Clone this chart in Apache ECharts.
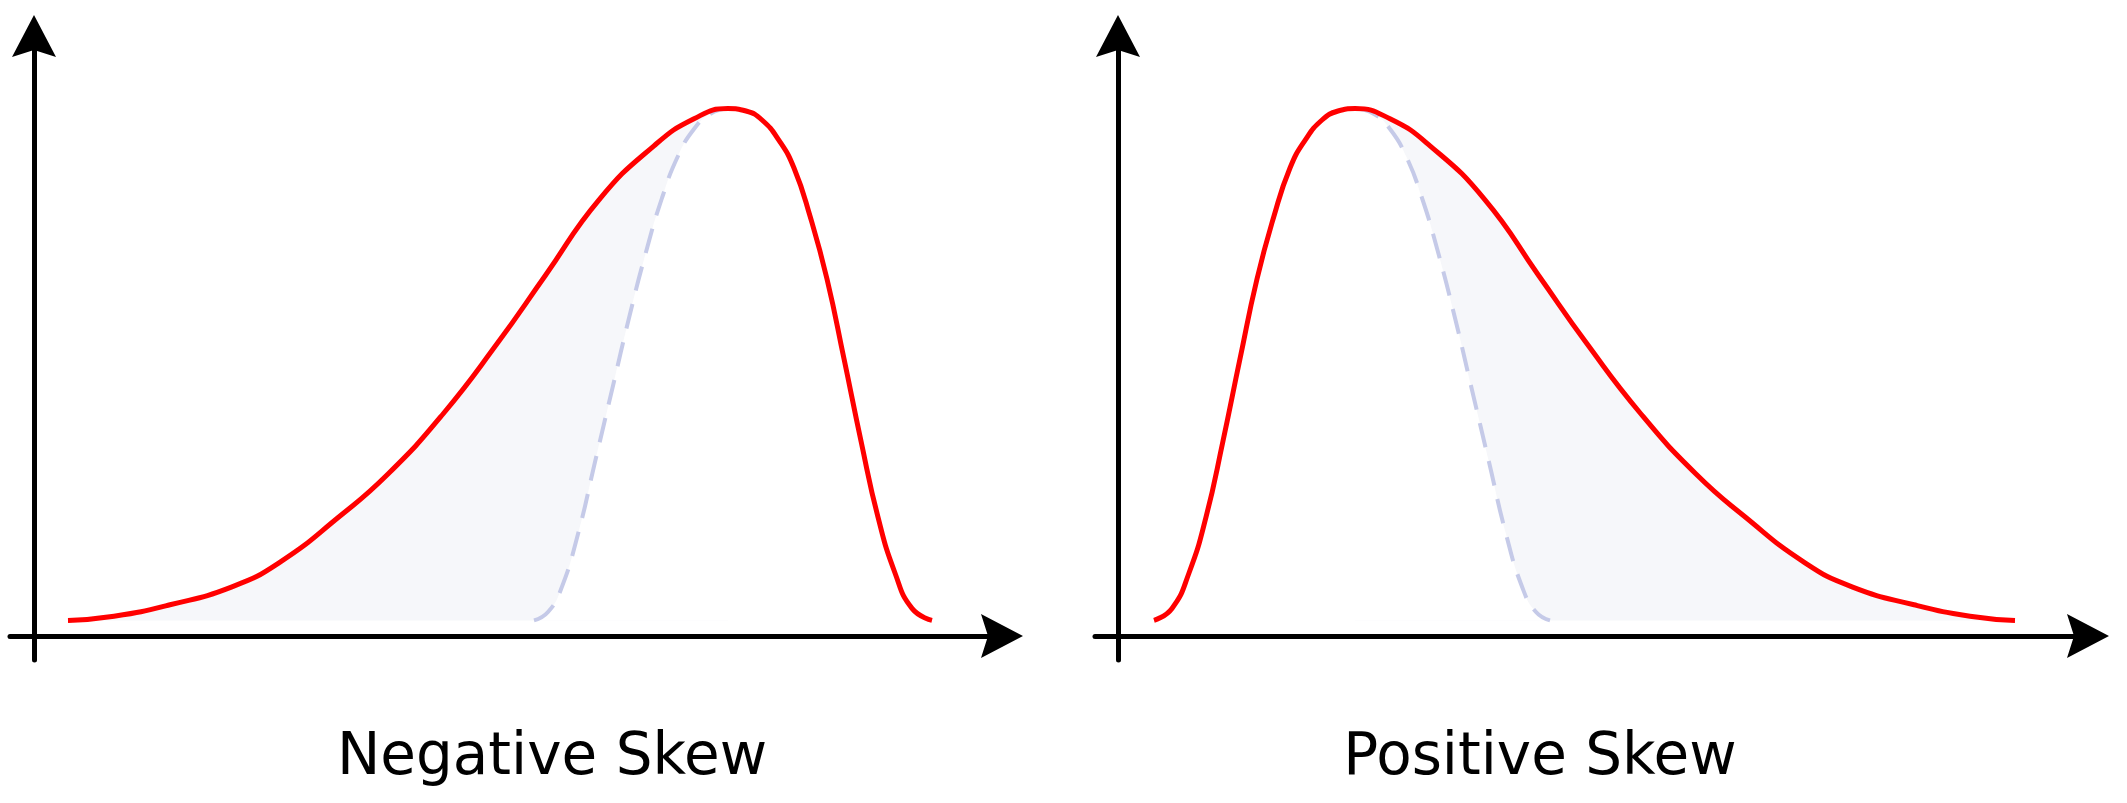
<!DOCTYPE html>
<html><head><meta charset="utf-8">
<script src="https://cdn.jsdelivr.net/npm/echarts@6/dist/echarts.min.js"></script>
<style>html,body{margin:0;padding:0;background:#fff}#c{width:2127px;height:803px}</style>
</head><body><div id="c"></div>
<script>
// Panel titles
const panelTitles = ['Negative Skew', 'Positive Skew'];

// Negative skew: red density curve
const negRedX = [0.34, 0.80, 1.36, 1.98, 2.45, 3.06, 3.54, 4.09, 4.63, 5.11, 5.65, 6.20, 6.60, 6.94, 7.12, 7.28, 7.45, 7.60, 7.76, 7.93, 8.10, 8.27, 8.44, 8.61, 8.78, 8.98];
const negRedY = [0.026, 0.033, 0.052, 0.082, 0.122, 0.200, 0.270, 0.370, 0.487, 0.600, 0.727, 0.817, 0.862, 0.879, 0.875, 0.860, 0.826, 0.780, 0.700, 0.595, 0.462, 0.325, 0.198, 0.105, 0.046, 0.026];
// Negative skew: dashed symmetric reference curve
const negDashX = [5.00, 5.14, 5.27, 5.44, 5.61, 5.78, 5.95, 6.12, 6.28, 6.44, 6.60, 6.76, 6.94];
const negDashY = [0.026, 0.040, 0.078, 0.170, 0.290, 0.410, 0.530, 0.640, 0.730, 0.800, 0.845, 0.870, 0.879];

// Positive skew: red density curve
const posRedX = [0.36, 0.54, 0.71, 0.88, 1.05, 1.22, 1.39, 1.56, 1.72, 1.87, 2.04, 2.20, 2.37, 2.72, 3.12, 3.67, 4.21, 4.69, 5.23, 5.78, 6.26, 6.87, 7.34, 7.96, 8.52, 8.97];
const posRedY = [0.026, 0.046, 0.105, 0.198, 0.325, 0.462, 0.595, 0.700, 0.780, 0.826, 0.860, 0.875, 0.879, 0.862, 0.817, 0.727, 0.600, 0.487, 0.370, 0.270, 0.200, 0.122, 0.082, 0.052, 0.033, 0.026];
// Positive skew: dashed symmetric reference curve
const posDashX = [2.37, 2.56, 2.72, 2.88, 3.04, 3.20, 3.37, 3.54, 3.71, 3.88, 4.05, 4.18, 4.32];
const posDashY = [0.879, 0.870, 0.845, 0.800, 0.730, 0.640, 0.530, 0.410, 0.290, 0.170, 0.078, 0.040, 0.026];

const baseline = 0.026;

const pairs = (xs, ys) => xs.map((x, i) => [x, ys[i]]);
const peakIdx = ys => ys.indexOf(Math.max(...ys));

const negRed = pairs(negRedX, negRedY);
const negDash = pairs(negDashX, negDashY);
const posRed = pairs(posRedX, posRedY);
const posDash = pairs(posDashX, posDashY);
const negFill = negRed.slice(0, peakIdx(negRedY) + 1);
const posFill = posRed.slice(peakIdx(posRedY));

const RED = '#ff0000';
const DASH = '#c5cae8';
const FILL = '#f6f7fa';
const arrowPath = 'path://M0,0L22,42L0,35L-22,42Z';

function axesFor(gi, xmin, xmax) {
  const line = {show: true, onZero: true, lineStyle: {color: '#000', width: 5},
    symbol: ['none', arrowPath], symbolSize: [45, 42]};
  return {
    x: {type: 'value', gridIndex: gi, min: xmin, max: xmax, axisLine: line,
      axisTick: {show: false}, axisLabel: {show: false}, splitLine: {show: false}},
    y: {type: 'value', gridIndex: gi, min: -0.04, max: 1, axisLine: line,
      axisTick: {show: false}, axisLabel: {show: false}, splitLine: {show: false}}
  };
}
const a0 = axesFor(0, -0.24, 9.68);
const a1 = axesFor(1, -0.23, 9.70);

function panelSeries(gi, red, dash, fill) {
  const common = {type: 'line', xAxisIndex: gi, yAxisIndex: gi, smooth: 0.5,
    showSymbol: false, symbol: 'none', silent: true, animation: false};
  return [
    Object.assign({}, common, {data: fill, lineStyle: {width: 0},
      areaStyle: {color: FILL, opacity: 1, origin: baseline}}),
    Object.assign({}, common, {data: dash, lineStyle: {width: 0},
      areaStyle: {color: '#ffffff', opacity: 1, origin: baseline}}),
    Object.assign({}, common, {data: dash,
      lineStyle: {color: DASH, width: 4, type: [25, 14]}}),
    Object.assign({}, common, {data: red,
      lineStyle: {color: RED, width: 5}})
  ];
}

const chart = echarts.init(document.getElementById('c'), null, {renderer: 'canvas'});
chart.setOption({
  backgroundColor: '#ffffff',
  animation: false,
  grid: [
    {left: 10, top: 36, width: 992, height: 624},
    {left: 1095, top: 36, width: 993, height: 624}
  ],
  xAxis: [a0.x, a1.x],
  yAxis: [a0.y, a1.y],
  series: [].concat(
    panelSeries(0, negRed, negDash, negFill),
    panelSeries(1, posRed, posDash, posFill)
  ),
  graphic: [
    {type: 'text', x: 552, y: 759, silent: true, style: {text: panelTitles[0], fill: '#000',
      font: '58px "DejaVu Sans"', align: 'center', verticalAlign: 'middle'}},
    {type: 'text', x: 1540, y: 759, silent: true, style: {text: panelTitles[1], fill: '#000',
      font: '58px "DejaVu Sans"', align: 'center', verticalAlign: 'middle'}}
  ]
});
</script></body></html>
